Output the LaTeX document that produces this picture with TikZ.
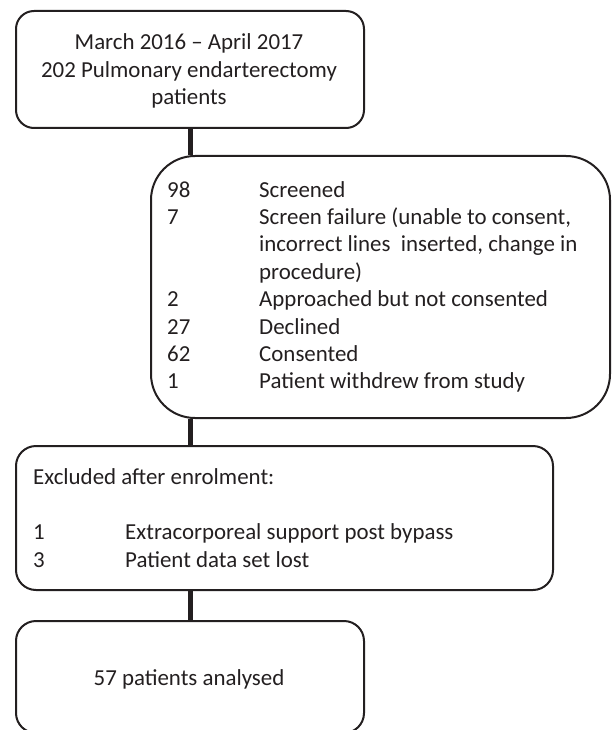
\documentclass[tikz,border=0pt]{standalone}
\usepackage{fontspec}
\setmainfont{Carlito}
\definecolor{ink}{HTML}{231F20}
\begin{document}
\begin{tikzpicture}[x=1pt,y=-1pt,
  box/.style={draw=ink, line width=2pt, anchor=north west, inner sep=0pt},
  link/.style={draw=ink, line width=5pt},
  txt/.style={anchor=base west, inner sep=0pt, text=ink, font=\fontsize{22.9}{27.4}\selectfont},
  ctxt/.style={anchor=base, inner sep=0pt, text=ink, font=\fontsize{22.9}{27.4}\selectfont, align=center}]
\useasboundingbox (0,0) rectangle (611,730);
% boxes
\node[box, rounded corners=18pt, minimum width=348pt, minimum height=117pt] (b1) at (15,10) {};
\node[box, rounded corners=44pt, minimum width=459pt, minimum height=262pt] (b2) at (150,155) {};
\node[box, rounded corners=20pt, minimum width=537pt, minimum height=144pt] (b3) at (15,445) {};
\node[box, rounded corners=20pt, minimum width=348pt, minimum height=112pt] (b4) at (15,620) {};
% connectors
\draw[link] (b1.south) -- (b1.south |- b2.north);
\draw[link] (b1.south |- b2.south) -- (b1.south |- b3.north);
\draw[link] (b4.north |- b3.south) -- (b4.north);
% box 1 text
\node[ctxt] (t1a) at (189,50) {March 2016 – April 2017};
\node[ctxt] (t1b) at (189,77.4) {202 Pulmonary endarterectomy};
\node[ctxt] (t1c) at (189,104.8) {patients};
% box 2 text
\node[txt] (n1) at (167,197) {98};
\node[txt] (d1) at (259,197) {Screened};
\node[txt] (n2) at (167,224.4) {7};
\node[txt] (d2) at (259,224.4) {Screen failure (unable to consent,};
\node[txt] (d2b) at (259,251.8) {incorrect lines\ \ inserted, change in};
\node[txt] (d2c) at (259,279.2) {procedure)};
\node[txt] (n3) at (167,306.6) {2};
\node[txt] (d3) at (259,306.6) {Approached but not consented};
\node[txt] (n4) at (167,334) {27};
\node[txt] (d4) at (259,334) {Declined};
\node[txt] (n5) at (167,361.4) {62};
\node[txt] (d5) at (259,361.4) {Consented};
\node[txt] (n6) at (167,388.8) {1};
\node[txt] (d6) at (259,388.8) {Patient withdrew from study};
% box 3 text
\node[txt] (e0) at (33,484) {Excluded after enrolment:};
\node[txt] (e1n) at (33,539.5) {1};
\node[txt] (e1) at (125,539.5) {Extracorporeal support post bypass};
\node[txt] (e2n) at (33,567) {3};
\node[txt] (e2) at (125,567) {Patient data set lost};
% box 4 text
\node[ctxt] (f) at (189,685) {57 patients analysed};
\end{tikzpicture}
\end{document}
